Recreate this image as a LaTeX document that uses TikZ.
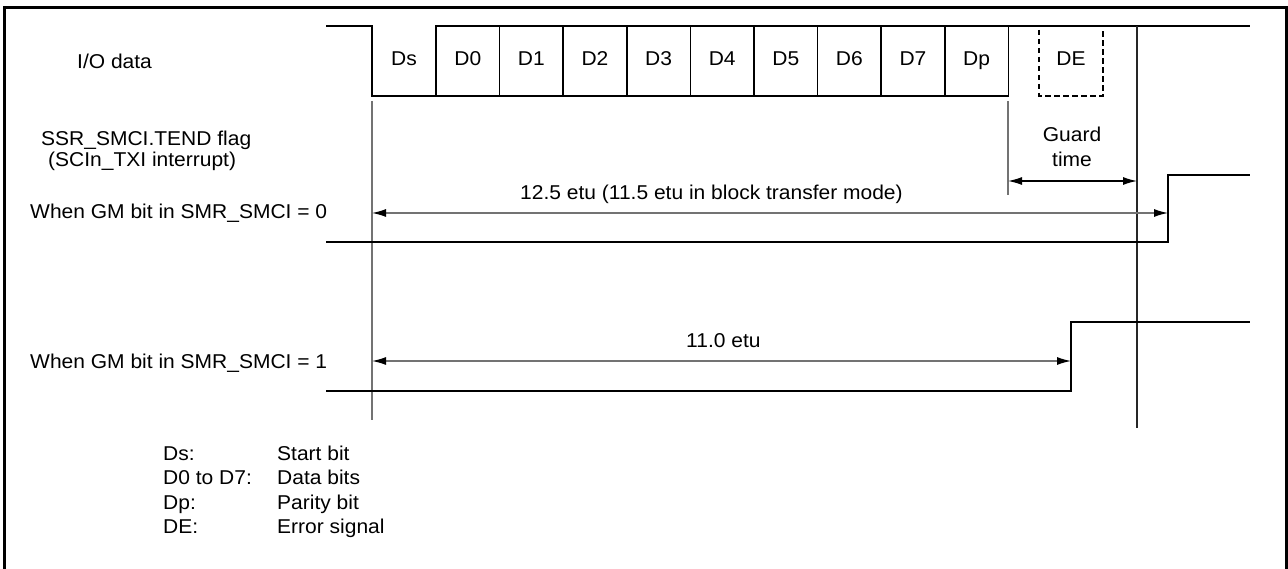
\documentclass[tikz,border=0pt]{standalone}
\usepackage{fontspec}
\setmainfont{Liberation Sans}[FakeStretch=1.05]
\usetikzlibrary{arrows.meta}
\begin{document}
\begin{tikzpicture}[x=1pt,y=-1pt,
  sig/.style={line width=1.7pt, black},
  txt/.style={font=\fontsize{20}{23}\selectfont, inner sep=0pt},
  boxtxt/.style={txt, text height=14pt, text depth=4pt},
  bitbox/.style={boxtxt, draw, line width=1.5pt, minimum width=63.6pt, minimum height=70pt, outer sep=0pt, anchor=north west},
  guide/.style={line width=1.3pt, color=black!55},
  dimline/.style={line width=1.3pt, color=black!55, {Latex[length=14pt,width=8pt,color=black]}-{Latex[length=14pt,width=8pt,color=black]}},
  lbl/.style={txt, anchor=base west},
  frame/.style={line width=3pt, black}]
\useasboundingbox (0,0) rectangle (1288,569);
% frame
\draw[frame] (4,575) -- (4,8) -- (1286,8) -- (1286,575);
% bit boxes
\node[boxtxt] (Ds) at (404,61) {Ds};
\node[bitbox] (D0) at (436,26) {D0};
\node[bitbox] (D1) at (D0.north east) {D1};
\node[bitbox] (D2) at (D1.north east) {D2};
\node[bitbox] (D3) at (D2.north east) {D3};
\node[bitbox] (D4) at (D3.north east) {D4};
\node[bitbox] (D5) at (D4.north east) {D5};
\node[bitbox] (D6) at (D5.north east) {D6};
\node[bitbox] (D7) at (D6.north east) {D7};
\node[bitbox] (Dp) at (D7.north east) {Dp};
\node[boxtxt] (DE) at (1071,61) {DE};
% I/O waveform
\coordinate (ioL) at (326,26);
\coordinate (ioS) at (372,26);
\coordinate (ioSb) at (372,96);
\coordinate (ioR) at (1250,26);
\draw[sig] (ioL) -- (ioS) -- (ioSb) -- (D0.south west);
\draw[sig] (Dp.north east) -- (ioR);
\draw[line width=1.7pt, dash pattern=on 5.5pt off 3.5pt] (1039,30) -- (1039,96) -- (1103,96) -- (1103,30);
% guide verticals
\coordinate (vA1) at (372,101);
\coordinate (vA2) at (372,420);
\coordinate (vB1) at (1008,101);
\coordinate (vB2) at (1008,195);
\coordinate (vC1) at (1137,26);
\coordinate (vC2) at (1137,428);
\draw[guide] (vA1) -- (vA2);
\draw[guide] (vB1) -- (vB2);
\draw[line width=1.3pt, black!85] (vC1) -- (vC2);
% guard time
\coordinate (gL) at (1008,181);
\coordinate (gR) at (1137,181);
\draw[dimline, color=black] (gL) -- (gR);
\node[txt, anchor=base] (guard1) at (1072,142) {Guard};
\node[txt, anchor=base] (guard2) at (1072,167) {time};
% GM = 0
\coordinate (a0L) at (372,213);
\coordinate (a0R) at (1168,213);
\draw[dimline] (a0L) -- (a0R);
\node[lbl] (t125) at (520,200) {12.5 etu (11.5 etu in block transfer mode)};
\coordinate (w0a) at (326,242);
\coordinate (w0b) at (1168,242);
\coordinate (w0c) at (1168,175);
\coordinate (w0d) at (1250,175);
\draw[sig] (w0a) -- (w0b) -- (w0c) -- (w0d);
% GM = 1
\coordinate (a1L) at (372,361);
\coordinate (a1R) at (1071,361);
\draw[dimline] (a1L) -- (a1R);
\node[lbl] (t110) at (686,348) {11.0 etu};
\coordinate (w1a) at (326,391);
\coordinate (w1b) at (1071,391);
\coordinate (w1c) at (1071,322);
\coordinate (w1d) at (1250,322);
\draw[sig] (w1a) -- (w1b) -- (w1c) -- (w1d);
% left labels
\node[lbl] (lio) at (77,69) {I/O data};
\node[lbl] (ltend) at (41,146) {SSR\_SMCI.TEND flag};
\node[lbl] (ltxi) at (48,167) {(SCIn\_TXI interrupt)};
\node[lbl] (lgm0) at (30,219) {When GM bit in SMR\_SMCI = 0};
\node[lbl] (lgm1) at (30,368) {When GM bit in SMR\_SMCI = 1};
% legend
\node[lbl] (k1) at (163,460) {Ds:};
\node[lbl] (k2) at (163,484) {D0 to D7:};
\node[lbl] (k3) at (163,509) {Dp:};
\node[lbl] (k4) at (163,533) {DE:};
\node[lbl] (v1) at (277,460) {Start bit};
\node[lbl] (v2) at (277,484) {Data bits};
\node[lbl] (v3) at (277,509) {Parity bit};
\node[lbl] (v4) at (277,533) {Error signal};
\end{tikzpicture}
\end{document}
